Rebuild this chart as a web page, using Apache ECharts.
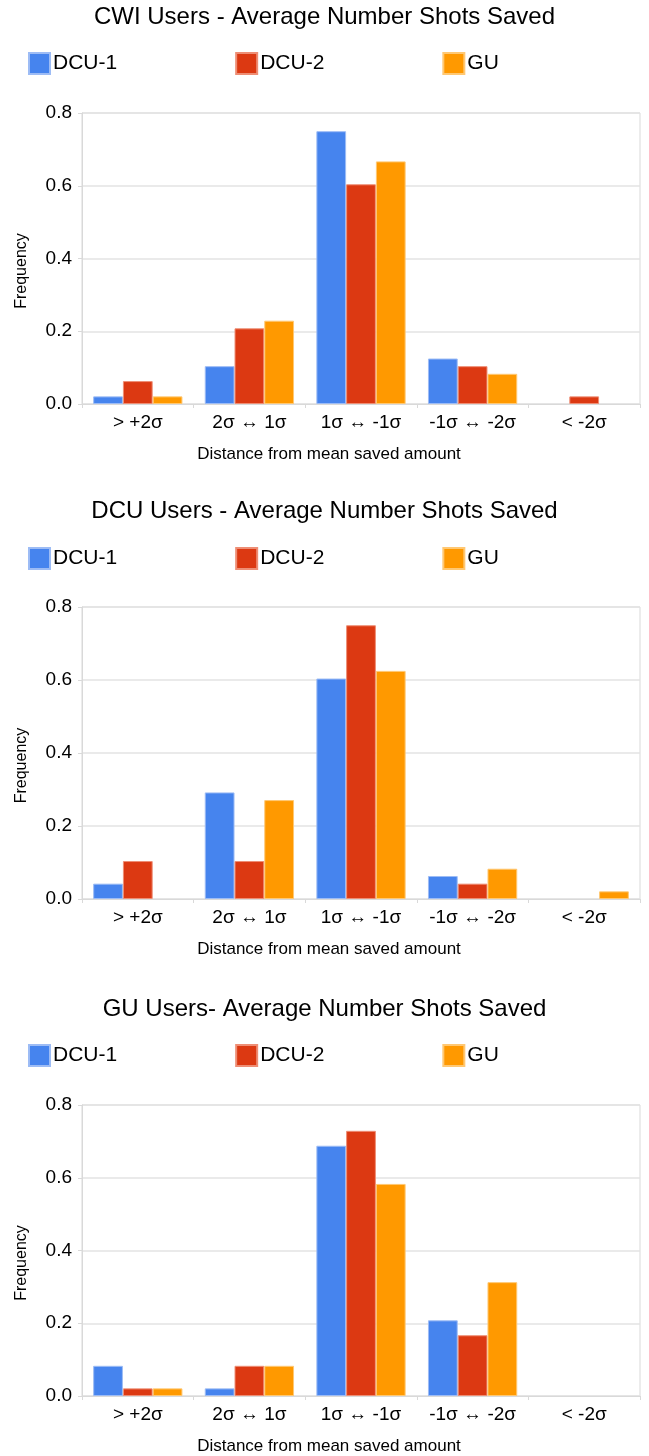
<!DOCTYPE html>
<html>
<head>
<meta charset="utf-8">
<script src="https://cdn.jsdelivr.net/npm/echarts@6/dist/echarts.min.js"></script>
<style>
  html, body { margin: 0; padding: 0; background: #fff; }
  #main { width: 649px; height: 1456px; }
</style>
</head>
<body>
<div id="main"></div>
<script>
// 分类与数据
var categories = ['> +2σ', '2σ ↔ 1σ', '1σ ↔ -1σ', '-1σ ↔ -2σ', '< -2σ'];
var seriesNames = ['DCU-1', 'DCU-2', 'GU'];
var yTicks = [0, 0.2, 0.4, 0.6, 0.8];

var cwiDcu1 = [0.021, 0.104, 0.750, 0.125, 0];
var cwiDcu2 = [0.063, 0.208, 0.604, 0.104, 0.021];
var cwiGu = [0.021, 0.229, 0.667, 0.083, 0];

var dcuDcu1 = [0.042, 0.292, 0.604, 0.063, 0];
var dcuDcu2 = [0.104, 0.104, 0.750, 0.042, 0];
var dcuGu = [0, 0.271, 0.625, 0.083, 0.021];

var guDcu1 = [0.083, 0.021, 0.688, 0.208, 0];
var guDcu2 = [0.021, 0.083, 0.729, 0.167, 0];
var guGu = [0.021, 0.083, 0.583, 0.313, 0];

var titles = ['CWI Users - Average Number Shots Saved', 'DCU Users - Average Number Shots Saved', 'GU Users- Average Number Shots Saved'];
var panelData = [[cwiDcu1, cwiDcu2, cwiGu], [dcuDcu1, dcuDcu2, dcuGu], [guDcu1, guDcu2, guGu]];

var colors = ['#4684ee', '#dc3912', '#ff9900'];
var borders = ['#9dbcf5', '#ee8e75', '#ffc873'];
var fontFamily = '"Liberation Sans", Arial, sans-serif';

// 各面板位置
var titleTops = [0, 494, 992];
var legendTops = [52, 547, 1044];
var gridTops = [113, 607, 1105];
var gridHeights = [291, 292, 292];

var option = {
    backgroundColor: '#fff',
    animation: false,
    color: colors,
    title: [],
    legend: [],
    grid: [],
    xAxis: [],
    yAxis: [],
    series: []
};

for (var i = 0; i < 3; i++) {
    option.title.push({
        text: titles[i],
        left: 'center',
        top: titleTops[i],
        textStyle: { fontFamily: fontFamily, fontSize: 24, fontWeight: 'normal', color: '#000' }
    });
    option.legend.push({
        data: seriesNames,
        left: 28,
        top: legendTops[i],
        padding: 0,
        icon: 'rect',
        itemWidth: 21,
        itemHeight: 21,
        itemGap: 118,
        textStyle: { fontFamily: fontFamily, fontSize: 21, color: '#000', padding: [0, 0, 0, -2] }
    });
    option.grid.push({
        left: 82,
        right: 9,
        top: gridTops[i],
        height: gridHeights[i],
        show: true,
        borderColor: '#d9d9d9',
        borderWidth: 1
    });
    option.xAxis.push({
        type: 'category',
        gridIndex: i,
        data: categories,
        name: 'Distance from mean saved amount',
        nameLocation: 'middle',
        nameGap: 42,
        nameTextStyle: { fontFamily: fontFamily, fontSize: 17, color: '#000', padding: [0, 64, 0, 0] },
        axisLine: { lineStyle: { color: '#d9d9d9', width: 1 } },
        axisTick: { show: true, length: 4, lineStyle: { color: '#d9d9d9' } },
        axisLabel: { fontFamily: fontFamily, fontSize: 19, color: '#000', margin: 9, interval: 0 }
    });
    option.yAxis.push({
        type: 'value',
        gridIndex: i,
        min: 0,
        max: 0.8,
        interval: 0.2,
        name: 'Frequency',
        nameLocation: 'middle',
        nameGap: 52,
        nameTextStyle: { fontFamily: fontFamily, fontSize: 16, color: '#000', padding: [0, 25, 0, 0] },
        axisLine: { show: true, lineStyle: { color: '#d9d9d9', width: 1 } },
        axisTick: { show: true, length: 4, lineStyle: { color: '#d9d9d9' } },
        splitLine: { show: true, lineStyle: { color: '#e3e3e3', width: 1.5 } },
        axisLabel: {
            fontFamily: fontFamily, fontSize: 19, color: '#000', margin: 10,
            formatter: function (v) { return v.toFixed(1); }
        }
    });
    for (var s = 0; s < 3; s++) {
        // 值为0的柱子不画边框
        var barData = panelData[i][s].map(function (v) {
            return v === 0 ? { value: v, itemStyle: { borderWidth: 0 } } : v;
        });
        option.series.push({
            name: seriesNames[s],
            type: 'bar',
            xAxisIndex: i,
            yAxisIndex: i,
            barGap: '0%',
            barCategoryGap: '20%',
            itemStyle: { color: colors[s], borderColor: borders[s], borderWidth: 1 },
            data: barData
        });
    }
}

var myChart = echarts.init(document.getElementById('main'));
myChart.setOption(option);
</script>
</body>
</html>
